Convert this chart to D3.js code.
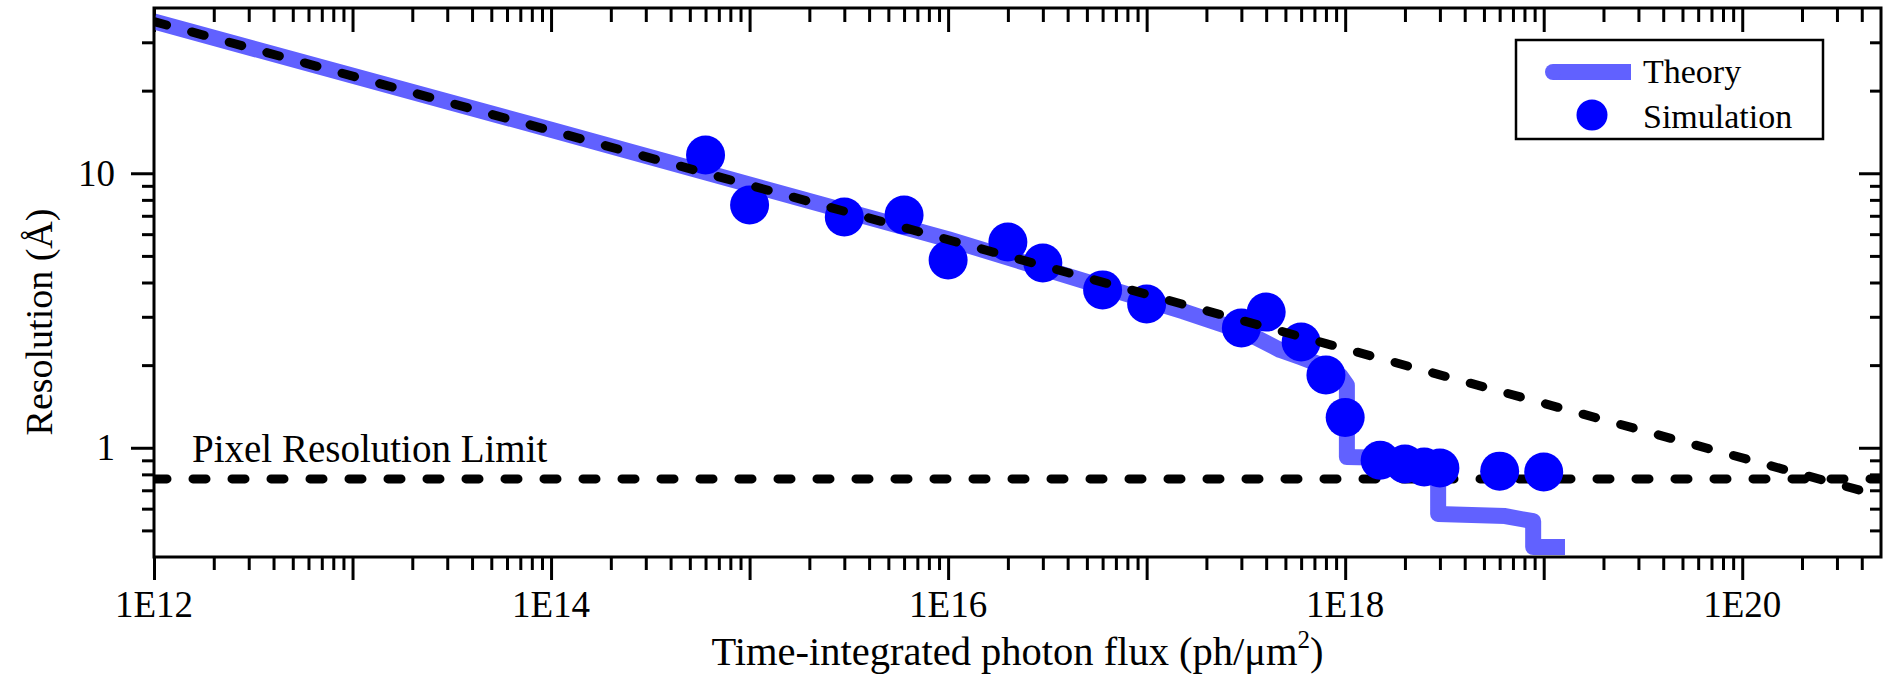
<!DOCTYPE html>
<html>
<head>
<meta charset="utf-8">
<script src="https://cdn.jsdelivr.net/npm/d3@7"></script>
<style>
body { margin: 0; background: #fff; }
.axis .domain { display: none; }
.axis line { stroke: #000; stroke-width: 3; }
</style>
</head>
<body>
<div class="chart-wrapper"></div>
<script>

// simulation points (flux in ph/um^2, resolution in Angstrom)
const simFlux = [6e14, 1e15, 3e15, 6e15, 1e16, 2e16, 3e16, 6e16, 1e17, 3e17, 4e17, 6e17, 8e17, 1e18, 1.5e18, 2e18, 2.5e18, 3e18, 6e18, 1e19];
const simRes = [11.65, 7.66, 6.93, 7.05, 4.83, 5.62, 4.71, 3.76, 3.34, 2.73, 3.12, 2.43, 1.84, 1.29, 0.90, 0.873, 0.851, 0.844, 0.822, 0.816];

// theory curve
const theoryFlux = [1e12, 1e14, 1e16, 1e17, 1.53e17, 2.64e17, 3.6e17, 4.71e17, 5.93e17, 7.74e17, 9.44e17, 1.02e18, 1.02e18, 2.94e18, 2.94e18, 6.4e18, 7.8e18, 8.85e18, 8.85e18, 1.28e19];
const theoryRes = [35.7, 14.4, 5.75, 3.45, 3.14, 2.75, 2.51, 2.27, 2.14, 1.99, 1.83, 1.69, 0.925, 0.91, 0.574, 0.564, 0.549, 0.54, 0.435, 0.435];

// dashed power-law trend and pixel limit
const trendFlux = [1e12, 5e20];
const trendRes = [35.7, 0.667];
const pixelLimit = 0.77;

const xLabelTicks = [1e12, 1e14, 1e16, 1e18, 1e20];
const yLabelTicks = [1, 10];

const legendItems = ["Theory", "Simulation"];

const serif = "'Liberation Serif', 'Times New Roman', Times, 'DejaVu Serif', serif";

let w = 1884;
let h = 683;

let margin = {top: 8, right: 3, bottom: 126, left: 154};
let width = w - margin.left - margin.right;
let height = h - margin.top - margin.bottom;

let xScale = d3.scaleLog()
.domain([1e12, 5e20])
.range([0, width]);

let yScale = d3.scaleLog()
.domain([0.4, 40])
.range([height, 0]);

// decade and minor tick positions
let xMajor = d3.range(12, 21).map(e => Math.pow(10, e));
let xMinor = [];
d3.range(12, 21).map(e => d3.range(2, 10).map(m => {
	let v = m * Math.pow(10, e);
	if(v < 5e20) xMinor.push(v);
}));

let yMajor = [1, 10];
let yMinor = [0.5, 0.6, 0.7, 0.8, 0.9, 2, 3, 4, 5, 6, 7, 8, 9, 20, 30];

const fmtExp = d => "1E" + Math.round(Math.log10(d));

let svgRoot = d3.select(".chart-wrapper").append("svg")
.attr("width", w)
.attr("height", h)
.attr("font-family", serif);

let svg = svgRoot.append("g")
.attr("transform", "translate(" + margin.left + "," + margin.top + ")");

svg.append("clipPath")
.attr("id", "plot-clip")
.append("rect")
.attr("width", width)
.attr("height", height);

// ticks: bottom & left point out, top & right point in (same direction)
svg.append("g").attr("class", "axis")
.attr("transform", "translate(0," + height + ")")
.call(d3.axisBottom(xScale).tickValues(xMajor).tickSize(23).tickFormat(""));
svg.append("g").attr("class", "axis")
.attr("transform", "translate(0," + height + ")")
.call(d3.axisBottom(xScale).tickValues(xMinor).tickSize(13).tickFormat(""));

svg.append("g").attr("class", "axis")
.call(d3.axisBottom(xScale).tickValues(xMajor).tickSize(24).tickFormat(""));
svg.append("g").attr("class", "axis")
.call(d3.axisBottom(xScale).tickValues(xMinor).tickSize(14).tickFormat(""));

svg.append("g").attr("class", "axis")
.call(d3.axisLeft(yScale).tickValues(yMajor).tickSize(23).tickFormat(""));
svg.append("g").attr("class", "axis")
.call(d3.axisLeft(yScale).tickValues(yMinor).tickSize(12).tickFormat(""));

svg.append("g").attr("class", "axis")
.attr("transform", "translate(" + width + ",0)")
.call(d3.axisLeft(yScale).tickValues(yMajor).tickSize(22).tickFormat(""));
svg.append("g").attr("class", "axis")
.attr("transform", "translate(" + width + ",0)")
.call(d3.axisLeft(yScale).tickValues(yMinor).tickSize(11).tickFormat(""));

svg.selectAll(".x-label")
.data(xLabelTicks)
.enter().append("text")
.attr("class", "x-label")
.attr("x", d => xScale(d))
.attr("y", height + 60)
.attr("font-family", serif)
.attr("font-size", 37)
.attr("text-anchor", "middle")
.text(fmtExp);

svg.selectAll(".y-label")
.data(yLabelTicks)
.enter().append("text")
.attr("class", "y-label")
.attr("x", -39)
.attr("y", d => yScale(d))
.attr("dy", "0.34em")
.attr("font-family", serif)
.attr("font-size", 37)
.attr("text-anchor", "end")
.text(d => d);

let plot = svg.append("g").attr("clip-path", "url(#plot-clip)");

let theory = theoryFlux.map((f, i) => ({flux: f, res: theoryRes[i]}));
let sims = simFlux.map((f, i) => ({flux: f, res: simRes[i]}));
let trend = trendFlux.map((f, i) => ({flux: f, res: trendRes[i]}));

let line = d3.line()
.x(d => xScale(d.flux))
.y(d => yScale(d.res));

plot.append("path")
.datum(theory)
.attr("fill", "none")
.attr("stroke", "#6161ff")
.attr("stroke-width", 16)
.attr("stroke-linejoin", "round")
.attr("d", line);

plot.append("line")
.attr("x1", 0)
.attr("x2", width)
.attr("y1", yScale(pixelLimit))
.attr("y2", yScale(pixelLimit))
.attr("stroke", "#000")
.attr("stroke-width", 9)
.attr("stroke-linecap", "round")
.attr("stroke-dasharray", "13,26");

plot.selectAll(".sim-dot")
.data(sims)
.enter().append("circle")
.attr("class", "sim-dot")
.attr("cx", d => xScale(d.flux))
.attr("cy", d => yScale(d.res))
.attr("r", 19.5)
.attr("fill", "#0000ff");

plot.append("path")
.datum(trend)
.attr("fill", "none")
.attr("stroke", "#000")
.attr("stroke-width", 9)
.attr("stroke-linecap", "round")
.attr("stroke-dasharray", "13,26")
.attr("d", line);

svg.append("rect")
.attr("width", width)
.attr("height", height)
.attr("fill", "none")
.attr("stroke", "#000")
.attr("stroke-width", 3);

svg.append("text")
.attr("x", 38)
.attr("y", yScale(pixelLimit) - 17)
.attr("font-family", serif)
.attr("font-size", 39)
.text("Pixel Resolution Limit");

// legend
let legend = svg.append("g")
.attr("transform", "translate(" + (1516 - margin.left) + "," + (40 - margin.top) + ")");

legend.append("rect")
.attr("width", 307)
.attr("height", 99)
.attr("fill", "#fff")
.attr("stroke", "#000")
.attr("stroke-width", 2.5);

legend.append("line")
.attr("x1", 37).attr("x2", 115)
.attr("y1", 32).attr("y2", 32)
.attr("stroke", "#6161ff")
.attr("stroke-width", 16);
legend.append("circle")
.attr("cx", 37).attr("cy", 32).attr("r", 8)
.attr("fill", "#6161ff");

legend.append("circle")
.attr("cx", 76).attr("cy", 75).attr("r", 15.5)
.attr("fill", "#0000ff");

legend.selectAll(".legend-text")
.data(legendItems)
.enter().append("text")
.attr("class", "legend-text")
.attr("x", 127)
.attr("y", (d, i) => 43 + i * 45)
.attr("font-family", serif)
.attr("font-size", 34)
.text(d => d);

// axis titles
let xTitle = svg.append("text")
.attr("x", width / 2)
.attr("y", 665 - margin.top)
.attr("font-family", serif)
.attr("font-size", 40.5)
.attr("text-anchor", "middle");
xTitle.append("tspan").text("Time-integrated photon flux (ph/\u03bcm");
xTitle.append("tspan").attr("dy", -17).attr("font-size", 25).text("2");
xTitle.append("tspan").attr("dy", 17).text(")");

svg.append("text")
.attr("transform", "translate(" + (52 - margin.left) + "," + (322 - margin.top) + ") rotate(-90)")
.attr("font-family", serif)
.attr("font-size", 38)
.attr("text-anchor", "middle")
.text("Resolution (\u00c5)");

</script>
</body>
</html>
